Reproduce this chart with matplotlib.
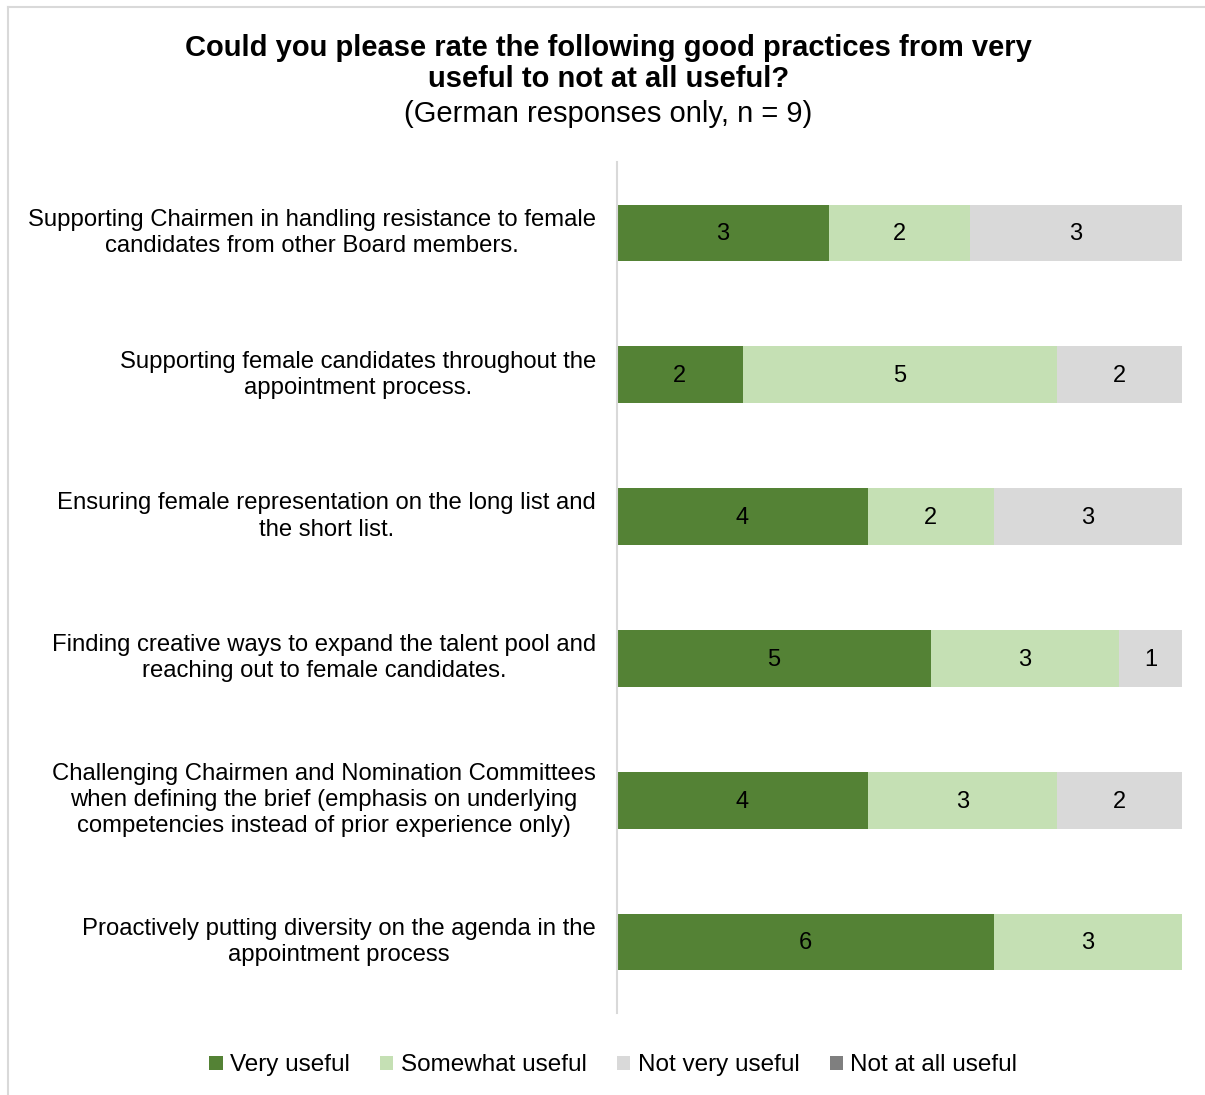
import matplotlib.pyplot as plt
import numpy as np
from matplotlib.patches import Patch
from matplotlib.lines import Line2D

plt.rcParams['font.family'] = ['Liberation Sans', 'DejaVu Sans']

labels = [
    'Supporting Chairmen in handling resistance to female\ncandidates from other Board members.',
    'Supporting female candidates throughout the\nappointment process.',
    'Ensuring female representation on the long list and\nthe short list.',
    'Finding creative ways to expand the talent pool and\nreaching out to female candidates.',
    'Challenging Chairmen and Nomination Committees\nwhen defining the brief (emphasis on underlying\ncompetencies instead of prior experience only)',
    'Proactively putting diversity on the agenda in the\nappointment process',
]
series = ['Very useful', 'Somewhat useful', 'Not very useful', 'Not at all useful']
very = [3, 2, 4, 5, 4, 6]
somewhat = [2, 5, 2, 3, 3, 3]
not_very = [3, 2, 3, 1, 2, 0]
not_at_all = [0, 0, 0, 0, 0, 0]
colors = ['#548235', '#C5E0B4', '#D9D9D9', '#7F7F7F']

data = np.array([very, somewhat, not_very, not_at_all], dtype=float)
totals = data.sum(axis=0)
shares = data / totals

fig = plt.figure(figsize=(12.05, 10.95), dpi=100)
ax = fig.add_axes([0.512, 0.075, 0.469, 0.777])

ind = np.arange(len(labels))
left = np.zeros(len(labels))
for k in range(len(series)):
    ax.barh(ind, shares[k], left=left, height=0.4, color=colors[k])
    for i in range(len(labels)):
        if data[k, i] > 0:
            ax.text(left[i] + shares[k, i] / 2, ind[i] + 0.01, '%d' % data[k, i],
                    ha='center', va='center', fontsize=17, color='black')
    left += shares[k]

ax.set_xlim(0, 1)
ax.set_ylim(len(labels) - 0.5, -0.5)
ax.set_xticks([])
ax.set_yticks([])
for s in ['top', 'right', 'bottom']:
    ax.spines[s].set_visible(False)
ax.spines['left'].set_color('#D9D9D9')
ax.spines['left'].set_linewidth(1.5)

# category labels, centred block ending left of the axis
for i, lab in enumerate(labels):
    ax.text(-0.037, ind[i], lab, ha='right', va='center', multialignment='center',
            fontsize=17.2, linespacing=1.25, transform=ax.get_yaxis_transform())

fig.text(0.505, 0.942, 'Could you please rate the following good practices from very\nuseful to not at all useful?',
         ha='center', va='center', fontsize=21, fontweight='bold', linespacing=1.17)
fig.text(0.505, 0.896, '(German responses only, n = 9)', ha='center', va='center', fontsize=21)

handles = [Patch(facecolor=c) for c in colors]
fig.legend(handles, series, loc='center', bbox_to_anchor=(0.509, 0.027), ncol=4, frameon=False,
           fontsize=17.5, handlelength=0.55, handleheight=0.55, handletextpad=0.3, columnspacing=1.25)

# thin frame around chart area
fig.add_artist(Line2D([0.0066, 0.0066], [0, 0.9936], color='#D9D9D9', lw=1.5))
fig.add_artist(Line2D([0.0066, 1], [0.9936, 0.9936], color='#D9D9D9', lw=1.5))

fig.savefig('out.png', dpi=100)
